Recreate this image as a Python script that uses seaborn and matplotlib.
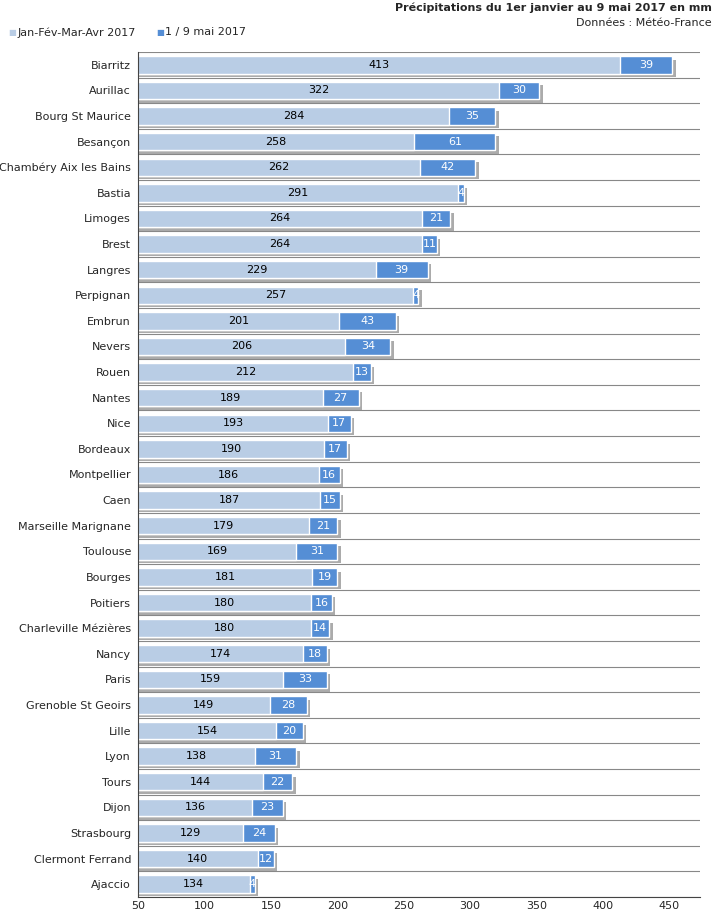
import matplotlib
matplotlib.use("Agg")
import matplotlib.pyplot as plt
import matplotlib.patheffects as pe
import seaborn as sns
import pandas as pd

cities = ["Biarritz","Aurillac","Bourg St Maurice","Besançon","Chambéry Aix les Bains","Bastia",
          "Limoges","Brest","Langres","Perpignan","Embrun","Nevers","Rouen","Nantes","Nice",
          "Bordeaux","Montpellier","Caen","Marseille Marignane","Toulouse","Bourges","Poitiers",
          "Charleville Mézières","Nancy","Paris","Grenoble St Geoirs","Lille","Lyon","Tours",
          "Dijon","Strasbourg","Clermont Ferrand","Ajaccio"]
jan_apr = [413,322,284,258,262,291,264,264,229,257,201,206,212,189,193,190,186,187,179,169,
           181,180,180,174,159,149,154,138,144,136,129,140,134]
may = [39,30,35,61,42,4,21,11,39,4,43,34,13,27,17,17,16,15,21,31,19,16,14,18,33,28,20,31,22,23,24,12,4]
xticks = [50,100,150,200,250,300,350,400,450]

df = pd.DataFrame({"city": cities, "a": jan_apr, "b": may})
df["total"] = df["a"] + df["b"]

sns.set_style("white")
plt.rcParams["font.family"] = "DejaVu Sans"
fs = 8
fig = plt.figure(figsize=(7.15, 9.22), dpi=100)
ax = fig.add_axes([138/715, 25/922, 562/715, 845/922])

shadow = [pe.SimplePatchShadow(offset=(2.5, -2.5), shadow_rgbFace="#888888", alpha=0.7), pe.Normal()]
sns.barplot(data=df, y="city", x="total", color="#558ed5", saturation=1, width=0.68, ax=ax, orient="h")
for p in ax.patches:
    p.set_path_effects(shadow)
sns.barplot(data=df, y="city", x="a", color="#b9cde5", saturation=1, width=0.68, ax=ax, orient="h")

xmin, xmax = 50, 473
ax.set_xlim(xmin, xmax)
ax.set_ylim(len(cities) - 0.5, -0.5)
for i, (a, b) in enumerate(zip(jan_apr, may)):
    ax.text((xmin + a) / 2, i, str(a), ha="center", va="center", fontsize=fs, color="black")
    ax.text(a + b / 2, i, str(b), ha="center", va="center", fontsize=fs, color="white")
for k in range(len(cities) + 1):
    ax.axhline(k - 0.5, color="#888888", lw=0.8, zorder=0)
ax.set_xticks(xticks)
ax.set_xticklabels([str(t) for t in xticks], fontsize=fs)
ax.tick_params(axis="y", labelsize=fs, length=0, pad=5)
ax.tick_params(axis="x", length=0, pad=3)
ax.set_xlabel(""); ax.set_ylabel("")
for s in ["top", "right"]:
    ax.spines[s].set_visible(False)
ax.spines["left"].set_color("#444444")
ax.spines["bottom"].set_color("#444444")

fig.text(0.995, 0.997, "Précipitations du 1er janvier au 9 mai 2017 en mm", ha="right", va="top",
         fontsize=fs, fontweight="bold")
fig.text(0.995, 0.980, "Données : Météo-France", ha="right", va="top", fontsize=fs)
fig.text(0.012, 0.965, "■", color="#b9cde5", fontsize=6, va="center")
fig.text(0.025, 0.965, "Jan-Fév-Mar-Avr 2017", fontsize=fs, va="center")
fig.text(0.218, 0.965, "■", color="#558ed5", fontsize=6, va="center")
fig.text(0.231, 0.965, "1 / 9 mai 2017", fontsize=fs, va="center")
fig.savefig("out.png", dpi=100)
